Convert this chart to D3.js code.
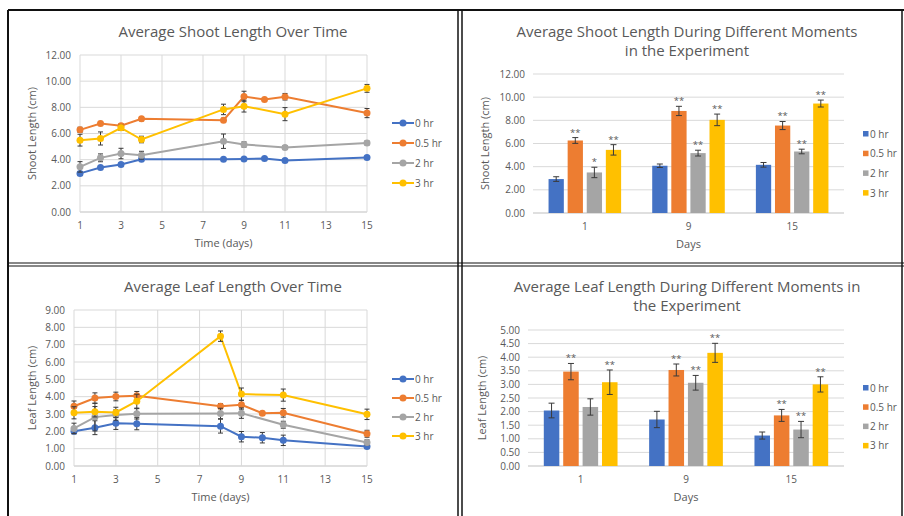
<!DOCTYPE html>
<html><head><meta charset="utf-8">
<script src="https://cdn.jsdelivr.net/npm/d3@7"></script>
<style>body{margin:0;background:#fff}svg{display:block}text{font-family:"Open Sans",sans-serif}</style>
</head><body><svg id="c" width="904" height="516"></svg>
<script>
// ---------- DATA ----------
const seriesNames = ["0 hr", "0.5 hr", "2 hr", "3 hr"];
const timeDays = [1, 2, 3, 4, 8, 9, 10, 11, 15];
const timeTicks = [1, 3, 5, 7, 9, 11, 13, 15];

const shoot0 = [2.95, 3.40, 3.63, 4.03, 4.03, 4.05, 4.08, 3.93, 4.16];
const shoot05 = [6.28, 6.77, 6.59, 7.12, 7.02, 8.83, 8.60, 8.81, 7.56];
const shoot2 = [3.45, 4.14, 4.47, 4.34, 5.41, 5.16, null, 4.93, 5.28];
const shoot3 = [5.49, 5.62, 6.43, 5.54, 7.84, 8.09, null, 7.48, 9.45];
const shoot0Err = [0.15, 0.15, 0.12, 0.10, 0.10, 0.10, 0.10, 0.10, 0.10];
const shoot05Err = [0.20, 0.15, 0.15, 0.15, 0.15, 0.40, 0.10, 0.25, 0.35];
const shoot2Err = [0.40, 0.30, 0.40, 0.30, 0.55, 0.20, null, 0.15, 0.15];
const shoot3Err = [0.45, 0.50, 0.20, 0.25, 0.40, 0.45, null, 0.50, 0.30];
const shootTicks = [0, 2, 4, 6, 8, 10, 12];

const leaf0 = [2.00, 2.21, 2.46, 2.44, 2.30, 1.69, 1.63, 1.48, 1.13];
const leaf05 = [3.45, 3.92, 4.01, 4.05, 3.45, 3.53, 3.05, 3.07, 1.86];
const leaf2 = [2.17, 2.82, 2.94, 3.01, 3.03, 3.05, null, 2.38, 1.36];
const leaf3 = [3.07, 3.13, 3.09, 3.74, 7.49, 4.15, null, 4.09, 2.98];
const leaf0Err = [0.15, 0.40, 0.35, 0.35, 0.40, 0.30, 0.30, 0.30, 0.10];
const leaf05Err = [0.30, 0.30, 0.25, 0.25, 0.15, 0.25, 0.10, 0.25, 0.20];
const leaf2Err = [0.30, 0.80, 0.30, 0.30, 0.30, 0.30, null, 0.20, 0.15];
const leaf3Err = [0.35, 0.30, 0.30, 0.40, 0.30, 0.35, null, 0.35, 0.30];
const leafTicks = [0, 1, 2, 3, 4, 5, 6, 7, 8, 9];

const barDays = ["1", "9", "15"];
const shootBar0 = [2.93, 4.08, 4.16];
const shootBar05 = [6.26, 8.81, 7.55];
const shootBar2 = [3.50, 5.17, 5.31];
const shootBar3 = [5.45, 8.04, 9.45];
const shootBar0Err = [0.20, 0.15, 0.20];
const shootBar05Err = [0.25, 0.40, 0.35];
const shootBar2Err = [0.45, 0.25, 0.20];
const shootBar3Err = [0.45, 0.50, 0.30];
const shootBar0Sig = ["", "", ""];
const shootBar05Sig = ["**", "**", "**"];
const shootBar2Sig = ["*", "**", "**"];
const shootBar3Sig = ["**", "**", "**"];

const leafBar0 = [2.04, 1.71, 1.12];
const leafBar05 = [3.47, 3.53, 1.86];
const leafBar2 = [2.17, 3.06, 1.34];
const leafBar3 = [3.08, 4.16, 3.00];
const leafBar0Err = [0.27, 0.30, 0.13];
const leafBar05Err = [0.30, 0.22, 0.22];
const leafBar2Err = [0.30, 0.27, 0.30];
const leafBar3Err = [0.45, 0.35, 0.28];
const leafBar0Sig = ["", "", ""];
const leafBar05Sig = ["**", "**", "**"];
const leafBar2Sig = ["", "**", "**"];
const leafBar3Sig = ["**", "**", "**"];
const barTicksLeaf = [0, 0.5, 1, 1.5, 2, 2.5, 3, 3.5, 4, 4.5, 5];

// ---------- STYLE ----------
const colors = ["#4472C4", "#ED7D31", "#A5A5A5", "#FFC000"];
const txt = "#595959", grid = "#D9D9D9", errC = "#3a3a3a";
const svg = d3.select("#c");

// panel borders
const bord = svg.append("g").attr("stroke", "#111").attr("fill", "none");
[[8, 10, 904, 10, 2], [8, 10, 8, 516, 2], [458, 10, 458, 516, 1.5], [462, 10, 462, 516, 1.5],
 [8, 263, 904, 263, 1.2], [8, 266, 904, 266, 1.2], [902, 10, 902, 516, 1.5]].forEach(l => {
  bord.append("line").attr("x1", l[0]).attr("y1", l[1]).attr("x2", l[2]).attr("y2", l[3]).attr("stroke-width", l[4]);
});

function titleText(lines, cx, y0, lh) {
  lines.forEach((t, i) => svg.append("text").attr("x", cx).attr("y", y0 + i * lh)
    .attr("text-anchor", "middle").attr("font-size", 15).attr("fill", txt).text(t));
}

function lineChart(cfg) {
  const x = d3.scaleLinear().domain([1, 15]).range([cfg.x0, cfg.x1]);
  const y = d3.scaleLinear().domain([0, cfg.ymax]).range([cfg.y0, cfg.y1]);
  const g = svg.append("g");
  g.selectAll(".hg").data(cfg.yTicks).join("line").attr("x1", cfg.x0).attr("x2", cfg.x1)
    .attr("y1", d => y(d)).attr("y2", d => y(d)).attr("stroke", d => d === 0 ? "#BFBFBF" : grid);
  g.selectAll(".vg").data(timeTicks).join("line").attr("y1", cfg.y0).attr("y2", cfg.y1)
    .attr("x1", d => x(d)).attr("x2", d => x(d)).attr("stroke", grid);
  g.selectAll(".yl").data(cfg.yTicks).join("text").attr("x", cfg.x0 - 9).attr("y", d => y(d) + 3.5)
    .attr("text-anchor", "end").attr("font-size", 10).attr("fill", txt).text(d => d.toFixed(2));
  g.selectAll(".xl").data(timeTicks).join("text").attr("x", d => x(d)).attr("y", cfg.y0 + 17)
    .attr("text-anchor", "middle").attr("font-size", 10).attr("fill", txt).text(d => d);
  g.append("text").attr("x", (cfg.x0 + cfg.x1) / 2).attr("y", cfg.y0 + 35).attr("text-anchor", "middle")
    .attr("font-size", 11).attr("fill", txt).text("Time (days)");
  g.append("text").attr("transform", `translate(${cfg.yTitleX},${(cfg.y0 + cfg.y1) / 2}) rotate(-90)`)
    .attr("text-anchor", "middle").attr("font-size", 11).attr("fill", txt).text(cfg.yTitle);
  const line = d3.line().defined(d => d.v != null).x(d => x(d.t)).y(d => y(d.v));
  cfg.series.forEach((s, i) => {
    const pts = timeDays.map((t, k) => ({ t, v: s[k], e: cfg.errs[i][k] })).filter(d => d.v != null);
    g.append("path").datum(pts).attr("d", line).attr("fill", "none").attr("stroke", colors[i]).attr("stroke-width", 2);
    const eb = g.append("g").attr("stroke", errC).attr("stroke-width", 1);
    pts.forEach(d => {
      eb.append("line").attr("x1", x(d.t)).attr("x2", x(d.t)).attr("y1", y(d.v - d.e)).attr("y2", y(d.v + d.e));
      [d.v - d.e, d.v + d.e].forEach(v => eb.append("line").attr("x1", x(d.t) - 2.5).attr("x2", x(d.t) + 2.5).attr("y1", y(v)).attr("y2", y(v)));
    });
    g.selectAll(null).data(pts).join("circle").attr("cx", d => x(d.t)).attr("cy", d => y(d.v))
      .attr("r", 3.5).attr("fill", colors[i]);
  });
  seriesNames.forEach((n, i) => {
    const ly = cfg.legY + i * cfg.legDy;
    g.append("line").attr("x1", 392).attr("x2", 414).attr("y1", ly).attr("y2", ly).attr("stroke", colors[i]).attr("stroke-width", 2);
    g.append("circle").attr("cx", 403).attr("cy", ly).attr("r", 3.5).attr("fill", colors[i]);
    g.append("text").attr("x", 415).attr("y", ly + 3.5).attr("font-size", 10).attr("fill", txt).text(n);
  });
}

function barChart(cfg) {
  const x = d3.scaleBand().domain(barDays).range([cfg.x0, cfg.x1]).paddingInner(0.3).paddingOuter(0.15);
  const xs = d3.scaleBand().domain(seriesNames).range([0, x.bandwidth()]).paddingInner(0.2);
  const y = d3.scaleLinear().domain([0, cfg.ymax]).range([cfg.y0, cfg.y1]);
  const g = svg.append("g");
  g.selectAll(".hg").data(cfg.yTicks).join("line").attr("x1", cfg.x0).attr("x2", cfg.x1)
    .attr("y1", d => y(d)).attr("y2", d => y(d)).attr("stroke", d => d === 0 ? "#BFBFBF" : grid);
  g.selectAll(".yl").data(cfg.yTicks).join("text").attr("x", cfg.x0 - 8).attr("y", d => y(d) + 3.5)
    .attr("text-anchor", "end").attr("font-size", 10).attr("fill", txt).text(d => d.toFixed(2));
  g.selectAll(".xl").data(barDays).join("text").attr("x", d => x(d) + x.bandwidth() / 2).attr("y", cfg.y0 + 17)
    .attr("text-anchor", "middle").attr("font-size", 10).attr("fill", txt).text(d => d);
  g.append("text").attr("x", (cfg.x0 + cfg.x1) / 2).attr("y", cfg.y0 + 35).attr("text-anchor", "middle")
    .attr("font-size", 11).attr("fill", txt).text("Days");
  g.append("text").attr("transform", `translate(${cfg.yTitleX},${(cfg.y0 + cfg.y1) / 2}) rotate(-90)`)
    .attr("text-anchor", "middle").attr("font-size", 11).attr("fill", txt).text(cfg.yTitle);
  cfg.series.forEach((s, i) => {
    const data = barDays.map((d, k) => ({ d, v: s[k], e: cfg.errs[i][k], sig: cfg.sigs[i][k] }));
    g.selectAll(null).data(data).join("rect").attr("x", d => x(d.d) + xs(seriesNames[i])).attr("width", xs.bandwidth())
      .attr("y", d => y(d.v)).attr("height", d => y(0) - y(d.v)).attr("fill", colors[i]);
    data.forEach(d => {
      const cx = x(d.d) + xs(seriesNames[i]) + xs.bandwidth() / 2;
      const eb = g.append("g").attr("stroke", errC).attr("stroke-width", 1);
      eb.append("line").attr("x1", cx).attr("x2", cx).attr("y1", y(d.v - d.e)).attr("y2", y(d.v + d.e));
      [d.v - d.e, d.v + d.e].forEach(v => eb.append("line").attr("x1", cx - 3).attr("x2", cx + 3).attr("y1", y(v)).attr("y2", y(v)));
      if (d.sig) g.append("text").attr("x", cx).attr("y", y(d.v + d.e) - 2).attr("text-anchor", "middle")
        .attr("font-size", 9.5).attr("fill", txt).text(d.sig);
    });
  });
  seriesNames.forEach((n, i) => {
    const ly = cfg.legY + i * cfg.legDy;
    g.append("rect").attr("x", 863).attr("y", ly - 3).attr("width", 5.5).attr("height", 5.5).attr("fill", colors[i]);
    g.append("text").attr("x", 870).attr("y", ly + 3.5).attr("font-size", 10).attr("fill", txt).text(n);
  });
}

titleText(["Average Shoot Length Over Time"], 233, 37, 0);
lineChart({ x0: 80, x1: 367, y0: 212, y1: 55, ymax: 12, yTicks: shootTicks, yTitle: "Shoot Length (cm)", yTitleX: 36,
  series: [shoot0, shoot05, shoot2, shoot3], errs: [shoot0Err, shoot05Err, shoot2Err, shoot3Err], legY: 123, legDy: 20 });

titleText(["Average Leaf Length Over Time"], 233, 292, 0);
lineChart({ x0: 74, x1: 367, y0: 466, y1: 310, ymax: 9, yTicks: leafTicks, yTitle: "Leaf Length (cm)", yTitleX: 36,
  series: [leaf0, leaf05, leaf2, leaf3], errs: [leaf0Err, leaf05Err, leaf2Err, leaf3Err], legY: 379, legDy: 19 });

titleText(["Average Shoot Length During Different Moments", "in the Experiment"], 687, 37, 19);
barChart({ x0: 533, x1: 844, y0: 213, y1: 74, ymax: 12, yTicks: shootTicks, yTitle: "Shoot Length (cm)", yTitleX: 489,
  series: [shootBar0, shootBar05, shootBar2, shootBar3], errs: [shootBar0Err, shootBar05Err, shootBar2Err, shootBar3Err],
  sigs: [shootBar0Sig, shootBar05Sig, shootBar2Sig, shootBar3Sig], legY: 134, legDy: 19.7 });

titleText(["Average Leaf Length During Different Moments in", "the Experiment"], 687, 292, 19);
barChart({ x0: 528, x1: 844, y0: 466, y1: 330, ymax: 5, yTicks: barTicksLeaf, yTitle: "Leaf Length (cm)", yTitleX: 486,
  series: [leafBar0, leafBar05, leafBar2, leafBar3], errs: [leafBar0Err, leafBar05Err, leafBar2Err, leafBar3Err],
  sigs: [leafBar0Sig, leafBar05Sig, leafBar2Sig, leafBar3Sig], legY: 388, legDy: 19.3 });
</script></body></html>
